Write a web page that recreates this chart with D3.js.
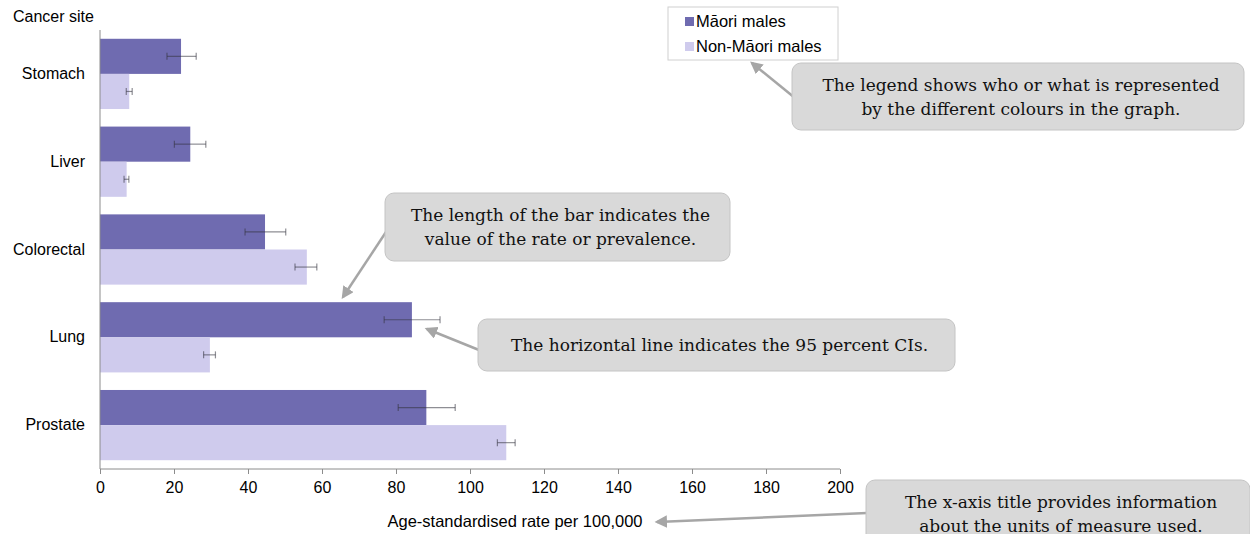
<!DOCTYPE html>
<html>
<head>
<meta charset="utf-8">
<script src="https://cdn.jsdelivr.net/npm/d3@7"></script>
<style>
  body { margin: 0; background: #fff; }
  svg { display: block; }
  .axis text, .lab { font-family: "Liberation Sans", Arial, sans-serif; font-size: 16px; fill: #000; }
  .note { font-family: "DejaVu Serif", Georgia, serif; font-size: 17px; fill: #111; }
</style>
</head>
<body>
<svg width="1250" height="534"></svg>
<script>
// cancer registrations, males, age-standardised rate per 100,000
var categories = ["Stomach", "Liver", "Colorectal", "Lung", "Prostate"];
var series = ["Māori males", "Non-Māori males"];
var maoriRate = [21.9, 24.4, 44.6, 84.3, 88.2];
var maoriLow = [18.1, 20.1, 39.2, 76.8, 80.6];
var maoriHigh = [26.0, 28.6, 50.2, 91.9, 96.0];
var nonMaoriRate = [7.9, 7.2, 55.9, 29.7, 109.8];
var nonMaoriLow = [7.1, 6.5, 52.7, 28.0, 107.4];
var nonMaoriHigh = [8.7, 7.8, 58.6, 31.2, 112.2];
var xTicks = [0, 20, 40, 60, 80, 100, 120, 140, 160, 180, 200];

var colors = ["#6f6bb0", "#cfcbed"];

var svg = d3.select("svg");

var x = d3.scaleLinear().domain([0, 200]).range([100, 840]);
var y = d3.scaleBand().domain(categories).range([30, 469])
    .paddingInner(0.2).paddingOuter(0.1);
var inner = d3.scaleBand().domain([0, 1]).range([0, y.bandwidth()]);

var rows = categories.map(function (c, i) {
    return [
        { cat: c, s: 0, v: maoriRate[i], lo: maoriLow[i], hi: maoriHigh[i] },
        { cat: c, s: 1, v: nonMaoriRate[i], lo: nonMaoriLow[i], hi: nonMaoriHigh[i] }
    ];
});
var bars = [].concat.apply([], rows);

// bars
svg.append("g")
    .selectAll("rect")
    .data(bars)
    .enter()
    .append("rect")
    .attr("x", x(0))
    .attr("y", function (d) { return y(d.cat) + inner(d.s); })
    .attr("width", function (d) { return x(d.v) - x(0); })
    .attr("height", inner.bandwidth())
    .attr("fill", function (d) { return colors[d.s]; });

// error bars (95% CI)
var err = svg.append("g")
    .attr("stroke", "rgba(50,50,60,0.55)")
    .attr("stroke-width", 1.2);
bars.forEach(function (d) {
    var cy = y(d.cat) + inner(d.s) + inner.bandwidth() / 2;
    err.append("line").attr("x1", x(d.lo)).attr("x2", x(d.hi)).attr("y1", cy).attr("y2", cy);
    err.append("line").attr("x1", x(d.lo)).attr("x2", x(d.lo)).attr("y1", cy - 3.5).attr("y2", cy + 3.5);
    err.append("line").attr("x1", x(d.hi)).attr("x2", x(d.hi)).attr("y1", cy - 3.5).attr("y2", cy + 3.5);
});

// x axis
var xAxis = svg.append("g")
    .attr("class", "axis")
    .attr("transform", "translate(0,469)")
    .call(d3.axisBottom(x).tickValues(xTicks).tickSize(5).tickPadding(8));
xAxis.selectAll("line, path").attr("stroke", "#8c8c8c");
xAxis.select(".domain").attr("d", "M" + x(0) + ",0H" + x(200));

// y axis
var yAxis = svg.append("g")
    .attr("class", "axis")
    .attr("transform", "translate(" + x(0) + ",0)")
    .call(d3.axisLeft(y).tickSize(0).tickPadding(15));
yAxis.select(".domain").attr("stroke", "#8c8c8c").attr("d", "M0,30V469");

svg.append("text")
    .attr("class", "lab")
    .attr("x", 13).attr("y", 22)
    .text("Cancer site");

svg.append("text")
    .attr("class", "lab")
    .attr("x", 515).attr("y", 527)
    .attr("text-anchor", "middle")
    .style("font-size", "16.5px")
    .text("Age-standardised rate per 100,000");

// legend
var legend = svg.append("g").attr("transform", "translate(668,7)");
legend.append("rect")
    .attr("width", 170).attr("height", 53)
    .attr("fill", "#fff").attr("stroke", "#d0d0d0");
series.forEach(function (s, i) {
    var g = legend.append("g").attr("transform", "translate(17," + (14.5 + i * 25) + ")");
    g.append("rect").attr("x", 0).attr("y", -4.5).attr("width", 9).attr("height", 9).attr("fill", colors[i]);
    g.append("text").attr("class", "lab").attr("x", 11).attr("y", 5.5)
        .style("font-size", "16.5px")
        .text(s);
});

// callouts
var defs = svg.append("defs");
defs.append("marker")
    .attr("id", "head")
    .attr("viewBox", "0 0 10 10")
    .attr("refX", 8).attr("refY", 5)
    .attr("markerWidth", 5).attr("markerHeight", 5)
    .attr("orient", "auto")
    .append("path")
    .attr("d", "M0,0L10,5L0,10z")
    .attr("fill", "#a6a6a6");

var callouts = [
    { box: [792, 63, 452, 67], lines: ["The legend shows who or what is represented", "by the different colours in the graph."], from: [795, 98], to: [752, 63] },
    { box: [385, 193, 345, 68], lines: ["The length of the bar indicates the", "value of the rate or prevalence."], from: [386, 232], to: [343, 297] },
    { box: [478, 319, 477, 52], lines: ["The horizontal line indicates the 95 percent CIs."], from: [479, 350], to: [427, 329] },
    { box: [866, 480, 384, 70], lines: ["The x-axis title provides information", "about the units of measure used."], from: [867, 513], to: [657, 522] }
];

callouts.forEach(function (c) {
    var g = svg.append("g");
    g.append("line")
        .attr("x1", c.from[0]).attr("y1", c.from[1])
        .attr("x2", c.to[0]).attr("y2", c.to[1])
        .attr("stroke", "#a6a6a6").attr("stroke-width", 2.5)
        .attr("marker-end", "url(#head)");
    g.append("rect")
        .attr("x", c.box[0]).attr("y", c.box[1])
        .attr("width", c.box[2]).attr("height", c.box[3])
        .attr("rx", 9)
        .attr("fill", "#d9d9d9").attr("stroke", "#c4c4c4");
    var cx = c.box[0] + c.box[2] / 2 + 3;
    var top = c.lines.length == 1 ? c.box[1] + c.box[3] / 2 + 6 : c.box[1] + 28;
    c.lines.forEach(function (t, i) {
        g.append("text").attr("class", "note")
            .attr("x", cx).attr("y", top + i * 24)
            .attr("text-anchor", "middle")
            .text(t);
    });
});
</script>
</body>
</html>
